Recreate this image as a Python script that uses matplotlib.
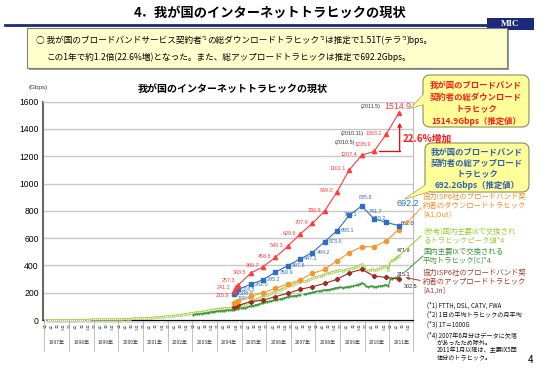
import numpy as np
import matplotlib
matplotlib.use('Agg')
import matplotlib.pyplot as plt
import matplotlib.transforms as mtransforms
from matplotlib.patches import FancyBboxPatch, Polygon, Rectangle

plt.rcParams['font.family'] = ['Noto Sans CJK JP', 'DejaVu Sans']

# --- data -------------------------------------------------------------
survey = ['2004.9', '2004.10', '2004.11', '2005.5', '2005.11', '2006.5', '2006.11',
          '2007.5', '2007.11', '2008.5', '2008.11', '2009.5', '2009.11',
          '2010.5', '2010.11', '2011.5']
down_total = [215.8, 241.1, 257.3, 343.5, 390.7, 458.8, 540.3, 629.6, 707.9,
              798.9, 939.0, 1101.1, 1207.4, 1235.9, 1363.2, 1514.9]
up_total = [189.4, 208.0, 224.5, 262.0, 295.2, 350.9, 397.8, 447.1, 494.2,
            573.6, 655.1, 768.1, 835.8, 741.7, 715.2, 692.2]
a1_out = [126, 132, 138, 176, 200, 232, 263, 293, 342, 371, 434, 493, 537,
          537, 580, 662.0]
a1_in = [96, 102, 108, 134, 146, 171, 195, 225, 244, 268, 298, 346, 371,
         322, 312, 302.5]

# monthly IX traffic, peak from 1997.1, average from 2003.1 (2007.6 excluded)
ix_peak_start = '1997.1'
ix_peak = [
    1, 1, 1, 1, 1, 1, 1, 1, 1, 2, 2, 2,  # 1997
    2, 2, 2, 2, 3, 3, 3, 3, 3, 3, 4, 4,  # 1998
    4, 4, 5, 5, 5, 5, 6, 6, 6, 7, 7, 8,  # 1999
    8, 8, 9, 9, 10, 10, 11, 11, 12, 12, 13, 14,  # 2000
    14, 15, 16, 17, 18, 19, 20, 21, 23, 24, 26, 27,  # 2001
    28, 30, 31, 33, 35, 37, 38, 41, 44, 46, 48, 50,  # 2002
    52, 55, 57, 61, 62, 65, 66, 70, 72, 76, 78, 80,  # 2003
    82, 85, 84, 88, 87, 90, 89, 93, 96, 101, 104, 108,  # 2004
    112, 118, 123, 131, 137, 146, 149, 155, 160, 167, 171, 180,  # 2005
    185, 191, 195, 203, 209, 218, 221, 229, 233, 243, 249, 256,  # 2006
    259, 265, 269, 275, 279, None, 283, 289, 293, 301, 305, 312,  # 2007
    315, 321, 325, 331, 335, 342, 343, 349, 353, 359, 361, 364,  # 2008
    363, 361, 369, 371, 377, 378, 383, 387, 395, 401, 409, 397,  # 2009
    368, 361, 367, 371, 370, 367, 375, 379, 387, 391, 397, 370,  # 2010
    430, 439, 447, 460, 471.9,  # 2011
]
ix_avg_start = '2003.1'
ix_avg = [
    40, 41, 43, 45, 47, 49, 50, 53, 56, 59, 61, 63,  # 2003
    64, 66, 67, 69, 70, 71, 72, 74, 76, 79, 83, 86,  # 2004
    88, 91, 95, 99, 102, 105, 109, 113, 117, 121, 127, 131,  # 2005
    135, 138, 141, 145, 147, 150, 153, 157, 161, 165, 169, 173,  # 2006
    175, 177, 179, 181, 184, None, 187, 191, 195, 199, 203, 207,  # 2007
    209, 212, 215, 218, 220, 222, 223, 226, 230, 234, 237, 240,  # 2008
    239, 237, 241, 243, 245, 247, 250, 254, 259, 265, 272, 266,  # 2009
    249, 244, 246, 248, 244, 242, 246, 250, 252, 256, 258, 250,  # 2010
    300, 304, 308, 312, 315.1,  # 2011
]
years = list(range(1997, 2012))
yticks = [0, 200, 400, 600, 800, 1000, 1200, 1400, 1600]

RED = '#FF3B3B'
BLUE = '#2F6FC1'
ORANGE = '#F7962F'
LGREEN = '#9ACD32'
DGREEN = '#3A9A3A'
BROWN = '#9E2B1E'
NAVY = '#1B2A7A'


def midx(s):
    y, m = s.split('.')
    return (int(y) - 1997) * 12 + int(m) - 1


xs = [midx(s) for s in survey]
xp = np.arange(len(ix_peak)) + midx(ix_peak_start)
xa = np.arange(len(ix_avg)) + midx(ix_avg_start)
yp = np.array(ix_peak, dtype=float)
ya = np.array(ix_avg, dtype=float)

fig = plt.figure(figsize=(5.4, 3.72), dpi=100)
ax = fig.add_axes([43 / 540, 52 / 372, 370 / 540, 218.3 / 372])

ax.plot(xp, yp, color=LGREEN, lw=1.0, marker='o', ms=1.6, mfc='white', mew=0.4, zorder=3)
ax.plot(xa, ya, color=DGREEN, lw=0.8, marker='o', ms=1.2, mew=0.3, zorder=3)
ax.plot(xs, a1_in, color=BROWN, lw=0.8, marker='D', ms=2.2, zorder=4)
ax.plot(xs, a1_out, color=ORANGE, lw=0.8, marker='o', ms=3, zorder=4)
ax.plot(xs, up_total, color=BLUE, lw=0.8, marker='s', ms=3, zorder=5)
ax.plot(xs, down_total, color=RED, lw=0.8, marker='^', ms=3, zorder=6)

ax.set_ylim(0, 1600)
ax.set_xlim(-1.2, 178.8)
ax.set_yticks(yticks)
ax.set_yticklabels([str(v) for v in yticks], fontsize=6.2, family='Liberation Sans')
ax.tick_params(axis='y', length=0, pad=3)
ax.grid(axis='y', color='#C8C8C8', lw=1.0)
ax.set_axisbelow(True)
ax.spines['left'].set_color('#666666')
ax.spines['left'].set_linewidth(1.5)
ax.spines['right'].set_color('#BBBBBB')
ax.spines['top'].set_color('#C8C8C8')
ax.spines['bottom'].set_color('black')

# monthly ticks, quarterly month labels under the axis
ax.set_xticks(range(0, 180), minor=True)
quarters = list(range(0, 180, 3))
ax.set_xticks(quarters)
ax.set_xticklabels([f'{m % 12 + 1}月' for m in quarters], fontsize=2.3,
                   rotation=90, color='#666666')
ax.tick_params(axis='x', which='both', length=2, width=0.3, pad=0.5, color='#555555')

trans = mtransforms.blended_transform_factory(ax.transData, ax.transAxes)
for k in range(16):
    xb = min(12 * k - 0.5, 178.8)
    ax.plot([xb, xb], [0, -0.142], transform=trans, color='#AAAAAA', lw=0.5, clip_on=False)
for k, y in enumerate(years):
    ax.text(12 * k + 5.5, -0.105, f'{y}年', transform=trans, fontsize=3.6,
            ha='center', va='center', color='#333333')

# point labels
lab = dict(fontsize=3.9, family='Liberation Sans', textcoords='offset pixels')
red_off = [(-5, -5), (-6, 0), (-3, 4)] + [(-4, 1)] * 13
red_off[13] = (-3, 7)
for x, v, o in zip(xs[:-1], down_total[:-1], red_off[:-1]):
    ax.annotate(f'{v:.1f}', (x, v), xytext=o, ha='right', va='center', color=RED, **lab)
ax.annotate(f'{down_total[-1]:.1f}', (xs[-1], down_total[-1]), xytext=(-1, 7),
            ha='center', va='center', color=RED, fontsize=6.3, family='Liberation Sans',
            textcoords='offset pixels')
for i, d, o in [(15, '(2011.5)', (-18, 7)), (14, '(2010.11)', (-23, 1)), (13, '(2010.5)', (-19, 9))]:
    ax.annotate(d, (xs[i], down_total[i]), xytext=o, ha='right', va='center',
                color='#333333', **lab)

blue_off = [(3, -4), (3, -2), (3, 0)] + [(4, 0)] * 13
blue_off[12] = (-3, 8)
blue_off[11] = (-6, 1)
blue_off[13] = (-5, 7)
blue_off[14] = (-14, 4)
for x, v, o in zip(xs[:-1], up_total[:-1], blue_off[:-1]):
    ax.annotate(f'{v:.1f}', (x, v), xytext=o, ha='left', va='center', color=BLUE, **lab)
ax.annotate(f'{up_total[-1]:.1f}', (xs[-1], up_total[-1]), xytext=(-2, 22),
            ha='left', va='center', color=BLUE, fontsize=6.5, family='Liberation Sans',
            textcoords='offset pixels', annotation_clip=False)
ax.annotate(f'{a1_out[-1]:.1f}', (xs[-1], a1_out[-1]), xytext=(2, 6), ha='left', va='center',
            color='#222222', annotation_clip=False, **lab)
ax.annotate(f'{ix_peak[-1]:.1f}', (xp[-1], ix_peak[-1]), xytext=(-2, 5), ha='left',
            va='center', color='#222222', annotation_clip=False, **lab)
ax.annotate(f'{ix_avg[-1]:.1f}', (xa[-1], ix_avg[-1]), xytext=(-2, 3), ha='left',
            va='center', color='#222222', annotation_clip=False, **lab)
ax.annotate(f'{a1_in[-1]:.1f}', (xs[-1], a1_in[-1]), xytext=(5, -8), ha='left',
            va='center', color='#222222', annotation_clip=False, **lab)

# 22.6% bracket
ax.plot([xs[13] + 2.5, xs[15] + 0.5], [down_total[13]] * 2, color='red', lw=0.9, zorder=7)
ax.annotate('', xy=(xs[15] + 0.5, 1445), xytext=(xs[15] + 0.5, down_total[13]),
            arrowprops=dict(arrowstyle='->', color='red', lw=0.9,
                            shrinkA=0, shrinkB=0, mutation_scale=6), zorder=7)

# --- slide overlay in pixel coordinates --------------------------------
ov = fig.add_axes([0, 0, 1, 1])
ov.set_xlim(0, 540)
ov.set_ylim(372, 0)
ov.axis('off')

ov.text(270, 13, '4．我が国のインターネットトラヒックの現状', fontsize=9.5,
        fontweight='bold', ha='center', va='center')
ov.plot([5, 487], [25, 25], color=NAVY, lw=2)
ov.add_patch(Rectangle((487, 18), 47, 12, fc=NAVY, ec='none'))
ov.text(510.5, 24.5, 'MIC', color='white', fontsize=6.5, fontweight='bold',
        family='Liberation Serif', ha='center', va='center')

ov.add_patch(Rectangle((29, 30), 480, 40, fc='#9A9A9A', ec='none'))
ov.add_patch(Rectangle((27, 28), 480, 40, fc='#FFFFCC', ec='#7F7F7F', lw=0.8))

r = fig.canvas.get_renderer()


def rich(x, y, parts, **kw):
    for s, fs, dy in parts:
        t = ov.text(x, y + dy, s, fontsize=fs, va='baseline', ha='left', **kw)
        x += t.get_window_extent(renderer=r).width


rich(36, 43, [('○ 我が国のブロードバンドサービス契約者', 6.2, 0), ('*1', 3.8, -3),
              ('の総ダウンロードトラヒック', 6.2, 0), ('*2', 3.8, -3),
              ('は推定で1.51T(テラ', 6.2, 0), ('*3', 3.8, -3), (')bps。', 6.2, 0)])
rich(47, 60, [('この1年で約1.2倍(22.6%増)となった。また、総アップロードトラヒックは推定で692.2Gbps。', 6.2, 0)])

ov.text(233, 89, '我が国のインターネットトラヒックの現状', fontsize=7.2,
        fontweight='bold', ha='center', va='center')
ov.text(38, 88, '(Gbps)', fontsize=4.5, family='Liberation Sans', ha='center', va='center',
        color='#333333')


def callout(x0, y0, x1, y1, base, tip, fc='#FFFF99', ec='#8C8C5A'):
    ov.add_patch(Polygon([base[0], tip, base[1]], closed=True, fc=fc, ec=ec, lw=0.8, zorder=2))
    ov.add_patch(FancyBboxPatch((x0, y0), x1 - x0, y1 - y0,
                                boxstyle='round,pad=0,rounding_size=7',
                                fc=fc, ec=ec, lw=0.8, zorder=3))
    ov.add_patch(Polygon([base[0], tip, base[1]], closed=True, fc=fc, ec='none', zorder=4))


callout(423, 75, 529, 127, [(428, 90), (428, 103)], (411, 108))
for i, s in enumerate(['我が国のブロードバンド', '契約者の総ダウンロード', 'トラヒック',
                       '1514.9Gbps（推定値）']):
    ov.text(476, 85 + 12.3 * i, s, color='#FF1A1A', fontsize=6, fontweight='bold',
            ha='center', va='center', zorder=5)
callout(425, 143, 529, 192, [(430, 182), (443, 187)], (405, 199))
for i, s in enumerate(['我が国のブロードバンド', '契約者の総アップロード', 'トラヒック',
                       '692.2Gbps（推定値）']):
    ov.text(477, 152 + 11.3 * i, s, color='#2F5FAF', fontsize=6, fontweight='bold',
            ha='center', va='center', zorder=5)

ov.text(403, 139, '22.6%増加', color='#FF1A1A', fontsize=7, fontweight='bold',
        ha='left', va='center')

legend_items = [
    ('#FF8C1A', 197, ['協力ISP6社のブロードバンド契', '約者のダウンロードトラヒック', '[A1,Out]']),
    (LGREEN, 232, ['(参考)国内主要IXで交換され', 'るトラヒックピーク値*4']),
    (DGREEN, 252, ['国内主要IXで交換される', '平均トラヒック[C]*4']),
    ('#A83A2A', 273, ['協力ISP6社のブロードバンド契', '約者のアップロードトラヒック', '[A1,In]']),
]
for col, y0, lines in legend_items:
    for i, s in enumerate(lines):
        ov.text(423, y0 + 8.8 * i, s, color=col, fontsize=5.3, ha='left', va='center')

ov.annotate('', xy=(404, 226), xytext=(423, 206),
            arrowprops=dict(arrowstyle='->', color=ORANGE, lw=0.7, mutation_scale=5))
ov.plot([421, 392], [236, 262], color=LGREEN, lw=0.7)
ov.plot([423, 405], [256, 272], color=DGREEN, lw=0.7)
ov.annotate('', xy=(403, 277), xytext=(423, 281),
            arrowprops=dict(arrowstyle='->', color='#A83A2A', lw=0.7, mutation_scale=5))

notes = [(427, 306, '(*1) FTTH, DSL, CATV, FWA'),
         (427, 315, '(*2) 1日の平均トラヒックの月平均'),
         (427, 325, '(*3) 1T＝1000G'),
         (427, 336, '(*4) 2007年6月分はデータに欠落'),
         (437, 343, 'があったため除外。'),
         (437, 350, '2011年1月以降は、主要IX5団'),
         (437, 357, '体分のトラヒック。')]
for x, y, s in notes:
    ov.text(x, y, s, fontsize=4.4, ha='left', va='center', color='#111111')

ov.text(531, 360, '4', fontsize=7, ha='center', va='center')

fig.savefig('out.png', dpi=100)
